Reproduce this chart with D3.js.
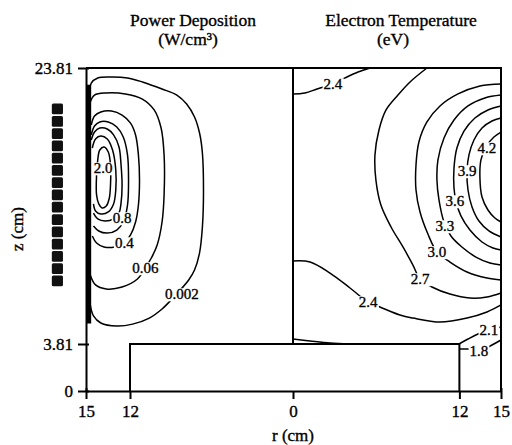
<!DOCTYPE html>
<html><head><meta charset="utf-8">
<script src="https://cdn.jsdelivr.net/npm/d3@7"></script>
<style>
html,body{margin:0;padding:0;background:#fff;}
svg{display:block;}
text{font-family:"Liberation Serif","Times New Roman",serif;fill:#000;}
.heavy{stroke:#000;stroke-width:0.35px;}
</style></head><body>
<svg id="chart" width="512" height="445"></svg>
<script>
// ---------- data (r in cm, z in cm) ----------
const zTicks = [0, 3.81, 23.81];
const rTicksLeft = [15, 12, 0];
const rTicksRight = [12, 15];
const coilR = 16.95;
const coilZ = [20.84, 19.95, 19.06, 18.17, 17.28, 16.39, 15.50, 14.61, 13.72, 12.83, 11.94, 11.05, 10.16, 9.27, 8.38];
const wallBand = [[14.8, 22.6], [14.8, 5.3]];

// Power deposition contours (left half)
const pd0002 = [[14.78,21.85],[14.64,22.72],[14.20,23.09],[13.26,23.16],[12.17,23.09],[11.09,22.80],[9.64,22.29],[8.55,21.85],[7.83,21.20],[7.25,20.26],[6.88,19.10],[6.67,17.65],[6.59,14.75],[6.67,12.29],[6.88,10.41],[7.25,9.17],[7.68,8.45],[8.70,7.29],[9.64,6.35],[10.58,5.69],[11.81,5.25],[12.90,5.11],[13.99,5.33],[14.49,5.84],[14.71,6.64]];
const pd006 = [[14.71,21.35],[14.42,21.85],[13.62,22.00],[12.32,21.93],[11.09,21.56],[10.22,20.77],[9.71,19.46],[9.49,17.51],[9.49,14.61],[9.64,12.65],[10.0,10.98],[10.43,10.04],[10.87,9.32],[11.45,8.52],[12.54,7.94],[13.62,7.80],[14.35,8.09],[14.71,8.81]];
const pd04 = [[14.64,19.68],[14.42,20.33],[13.99,20.62],[13.26,20.69],[12.54,20.40],[11.96,19.82],[11.59,18.96],[11.38,17.51],[11.30,15.69],[11.38,13.88],[11.59,12.65],[11.96,11.71],[12.39,11.13],[13.04,10.84],[13.77,10.84],[14.28,11.13],[14.57,11.64]];
const pd06 = [[14.64,18.96],[14.42,19.61],[14.06,19.90],[13.48,19.90],[12.90,19.53],[12.46,18.81],[12.17,17.51],[12.10,15.69],[12.17,13.88],[12.46,12.65],[12.90,12.07],[13.55,11.85],[14.13,12.0],[14.49,12.36]];
const pd08 = [[14.64,18.59],[14.42,19.17],[14.06,19.46],[13.55,19.39],[13.12,18.96],[12.75,18.09],[12.61,16.78],[12.54,15.33],[12.61,14.03],[12.75,13.30],[13.12,12.87],[13.70,12.72],[14.20,12.87],[14.49,13.30]];
const pd12 = [[14.57,18.01],[14.35,18.67],[13.99,18.88],[13.55,18.67],[13.19,17.87],[12.97,16.42],[12.97,14.97],[13.12,13.96],[13.48,13.38],[13.99,13.23],[14.35,13.45],[14.49,13.96]];
const pd20 = [[14.20,17.14],[14.06,17.87],[13.77,18.09],[13.48,17.72],[13.33,16.78],[13.33,15.33],[13.41,14.39],[13.62,13.81],[13.91,13.67],[14.13,13.96],[14.28,14.61],[14.28,16.06]];
const powerLabelText = ["2.0", "0.8", "0.4", "0.06", "0.002"];
const powerLabelPos = [[13.84,16.56],[12.54,12.94],[12.39,11.13],[10.87,9.32],[8.19,7.43]];

// Electron temperature contours (right half)
const te24a = [[0,21.93],[0.87,22.0],[1.73,22.29],[2.88,22.65],[3.75,23.09],[4.69,23.52],[5.55,23.81]];
const te24b = [[0,9.82],[1.23,9.75],[2.67,8.95],[4.11,7.87],[5.41,6.85],[6.27,6.49],[7.71,5.91],[8.65,5.69],[10.60,5.40],[12.55,5.69],[13.99,6.13],[15.0,6.64]];
const te27 = [[9.66,23.81],[8.44,22.80],[7.57,21.85],[6.71,20.77],[6.20,19.32],[5.91,17.51],[5.98,15.69],[6.34,13.88],[7.07,12.29],[7.93,10.84],[8.65,9.53],[9.16,8.52],[10.02,7.94],[11.32,7.43],[12.76,7.14],[13.99,7.22],[15.0,7.51]];
const te30 = [[15,22.65],[13.48,22.51],[11.90,21.93],[10.60,21.06],[9.66,19.90],[9.08,18.45],[8.87,16.78],[8.87,14.97],[9.16,13.38],[9.73,11.78],[10.38,10.48],[11.32,9.75],[12.55,9.03],[13.99,8.59],[15,8.45]];
const te33 = [[15,21.85],[13.84,21.64],[12.62,21.06],[11.61,20.04],[10.89,18.74],[10.45,17.14],[10.38,15.69],[10.53,14.24],[10.89,12.65],[11.39,11.64],[12.18,10.84],[13.19,10.11],[14.20,9.68],[15,9.53]];
const te36 = [[15,21.06],[14.06,20.77],[13.12,20.19],[12.33,19.24],[11.82,18.01],[11.61,16.56],[11.61,15.11],[11.75,14.17],[12.11,13.09],[12.76,12.07],[13.63,11.20],[14.42,10.77],[15,10.62]];
const te39 = [[15,20.19],[14.35,19.97],[13.63,19.46],[13.05,18.59],[12.69,17.51],[12.55,16.35],[12.62,14.97],[12.91,13.74],[13.41,12.72],[14.13,12.0],[15,11.56]];
const te42 = [[15,19.17],[14.49,18.81],[13.91,18.09],[13.55,17.14],[13.48,15.84],[13.63,14.46],[14.06,13.52],[14.56,12.94],[15,12.65]];
const te21 = [[11.97,3.81],[12.62,4.17],[13.34,4.53],[14.13,4.82],[14.71,4.97],[15,5.04]];
const te18 = [[11.97,3.40],[12.62,3.40],[13.41,3.24],[14.35,3.73],[15,4.10]];
const teBase = [[0,4.17],[1.23,4.03],[2.67,3.88],[4.11,3.81]];
const tempLabelText = ["2.4", "2.4", "2.7", "3.0", "3.3", "3.6", "3.9", "4.2", "2.1", "1.8"];
const tempLabelPos = [[2.88,22.65],[5.41,6.85],[9.16,8.52],[10.38,10.48],[10.96,12.36],[11.68,14.17],[12.55,16.35],[13.99,18.01],[14.13,4.82],[13.41,3.24]];

// ---------- scales ----------
const svg = d3.select("#chart");
const y = d3.scaleLinear().domain([0, 3.81, 23.81]).range([391, 344, 68]);
const xL = d3.scaleLinear().domain([0, 12, 15]).range([293, 130, 86]);
const xR = d3.scaleLinear().domain([0, 15]).range([293, 501]);

const lineOf = (xs, closed) => d3.line().x(d => xs(d[0])).y(d => y(d[1]))
  .curve(closed ? d3.curveCatmullRomClosed.alpha(0.5) : d3.curveCatmullRom.alpha(0.5));

const g = svg.append("g");

// coils
g.selectAll("rect.coil").data(coilZ).join("rect").attr("class", "coil")
  .attr("x", xL(coilR + 0.38)).attr("width", xL(coilR - 0.38) - xL(coilR + 0.38))
  .attr("y", d => y(d + 0.39)).attr("height", d => y(d - 0.39) - y(d + 0.39))
  .attr("rx", 1.5).attr("fill", "#111");

// contours
const leftSets = [pd0002, pd006, pd04, pd06, pd08, pd12];
g.selectAll("path.pd").data(leftSets).join("path").attr("class", "pd")
  .attr("d", d => lineOf(xL, false)(d)).attr("fill", "none").attr("stroke", "#000").attr("stroke-width", 1.5);
g.append("path").attr("d", lineOf(xL, true)(pd20)).attr("fill", "none").attr("stroke", "#000").attr("stroke-width", 1.5);
g.append("path").attr("d", lineOf(xL, false)(wallBand)).attr("fill", "none").attr("stroke", "#000").attr("stroke-width", 4.5);

const rightSets = [te24a, te24b, te27, te30, te33, te36, te39, te42, te21, te18, teBase];
g.selectAll("path.te").data(rightSets).join("path").attr("class", "te")
  .attr("d", d => lineOf(xR, false)(d)).attr("fill", "none").attr("stroke", "#000").attr("stroke-width", 1.5);

// frame lines
const frame = svg.append("g").attr("fill", "none").attr("stroke", "#000").attr("stroke-width", 2);
frame.append("path").attr("d", `M${xL(15)},${y(23.81)}H${xR(15)}V${y(0)}`);
frame.append("path").attr("d", `M${xL(0)},${y(23.81)}V${y(3.81)}`);
frame.append("path").attr("d", `M${xL(12)},${y(0)}V${y(3.81)}H${xR(12)}V${y(0)}`);

// axes
const axL = svg.append("g").attr("transform", `translate(${xL(15)},0)`)
  .call(d3.axisLeft(y).tickValues(zTicks).tickFormat(d => String(d)).tickSize(8).tickSizeOuter(0).tickPadding(5));
axL.selectAll(".tick line").attr("x1", 3);
const axB1 = svg.append("g").attr("transform", `translate(0,${y(0)})`)
  .call(d3.axisBottom(xL).tickValues(rTicksLeft).tickSize(8).tickSizeOuter(0).tickPadding(6));
const axB2 = svg.append("g").attr("transform", `translate(0,${y(0)})`)
  .call(d3.axisBottom(xR).tickValues(rTicksRight).tickSize(8).tickSizeOuter(0).tickPadding(6));
[axL, axB1, axB2].forEach(a => {
  a.select(".domain").attr("stroke-width", 2);
  a.selectAll(".tick line").attr("stroke-width", 2);
  a.selectAll("text").attr("font-size", 17).attr("font-family", "Liberation Serif").attr("class", "heavy");
});
axB1.selectAll(".tick line").attr("y1", d => d === 15 ? -3 : 0);
axB2.selectAll(".tick line").attr("y1", d => d === 15 ? -3 : 0);

// contour labels with white backing
const lab = (xs, texts, pos) => {
  const gl = svg.append("g").selectAll("g").data(texts).join("g")
    .attr("transform", (d, i) => `translate(${xs(pos[i][0])},${y(pos[i][1])})`);
  const tx = gl.append("text").attr("dy", "0.35em").attr("text-anchor", "middle").attr("font-size", 15)
    .attr("class", "heavy").text(d => d);
  tx.each(function () {
    const b = this.getBBox();
    d3.select(this.parentNode).insert("rect", "text")
      .attr("x", b.x - 1).attr("y", b.y + 2).attr("width", b.width + 2).attr("height", b.height - 3)
      .attr("fill", "#fff");
  });
};
lab(xL, powerLabelText, powerLabelPos);
lab(xR, tempLabelText, tempLabelPos);

// titles
const title = (x, yy, s) => svg.append("text").attr("x", x).attr("y", yy).attr("text-anchor", "middle")
  .attr("font-size", 17.5).attr("class", "heavy").text(s);
title(193, 26, "Power Deposition");
title(188, 45, "(W/cm³)");
title(401, 26, "Electron Temperature");
title(393, 45, "(eV)");

// axis titles
svg.append("text").attr("x", xL(0)).attr("y", 441).attr("text-anchor", "middle").attr("font-size", 17).attr("class", "heavy").text("r (cm)");
svg.append("text").attr("transform", "translate(23,229) rotate(-90)").attr("text-anchor", "middle").attr("font-size", 17).attr("class", "heavy").text("z (cm)");
</script>
</body></html>
